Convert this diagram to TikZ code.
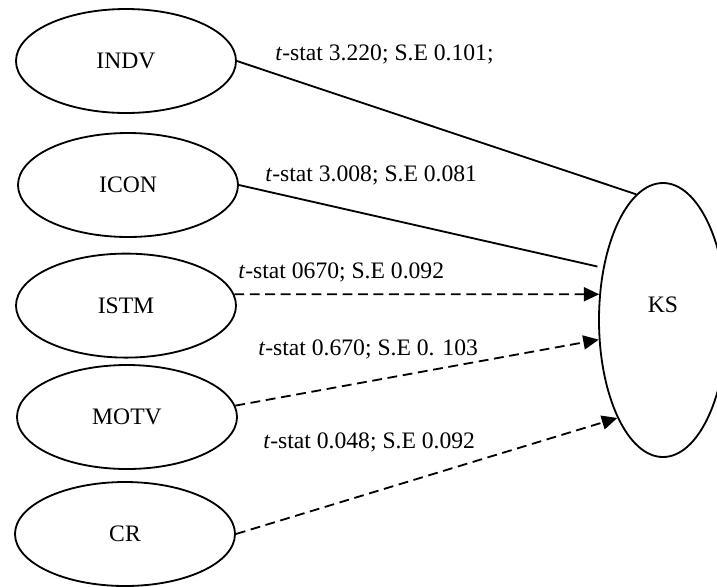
\documentclass[tikz,border=0pt]{standalone}
\usepackage{fontspec}
\setmainfont{Liberation Serif}
\usetikzlibrary{shapes.geometric, arrows.meta}

\begin{document}
\begin{tikzpicture}[>={Triangle[length=11pt,width=10pt]},
    font=\fontsize{16.8}{20}\selectfont,
    factor/.style={draw, ellipse, line width=1.3pt, minimum width=5.5cm, minimum height=2.6cm, inner sep=0pt},
    pathline/.style={line width=1.3pt},
    weak/.style={pathline, ->, dash pattern=on 7pt off 4pt},
    stat/.style={anchor=base west, inner sep=0pt}]
  \useasboundingbox (0,0) rectangle (17.925,-14.65);

  % Predictors
  \node[factor] (INDV) at (3.15,-1.525) {INDV};
  \node[factor] (ICON) at (3.2,-4.625) {ICON};
  \node[factor] (ISTM) at (3.15,-7.64) {ISTM};
  \node[factor] (MOTV) at (3.175,-10.425) {MOTV};
  \node[factor] (CR) at (3.125,-13.35) {CR};

  % Outcome
  \node[draw, ellipse, line width=1.3pt, minimum width=3.2cm, minimum height=6.85cm, text depth=0.75cm] (KS) at (16.575,-8.0) {KS};

  % Paths
  \draw[pathline] (INDV.0) -- (KS.102);
  \draw[pathline, shorten >=4pt] (ICON.0) -- (KS.139);
  \draw[weak] (ISTM.6) -- (KS.158);
  \draw[weak] (MOTV.6) -- (KS.197);
  \draw[weak] (CR.0) -- (KS.245);

  % Path statistics
  \node[stat] (tINDV) at (6.875,-1.5) {\textit{t}-stat 3.220; S.E 0.101;};
  \node[stat] (tICON) at (6.625,-4.525) {\textit{t}-stat 3.008; S.E 0.081};
  \node[stat] (tISTM) at (5.95,-6.95) {\textit{t}-stat 0670; S.E 0.092};
  \node[stat] (tMOTV) at (6.45,-8.875) {\textit{t}-stat 0.670; S.E 0. 103};
  \node[stat] (tCR) at (6.575,-11.2) {\textit{t}-stat 0.048; S.E 0.092};
\end{tikzpicture}
\end{document}
